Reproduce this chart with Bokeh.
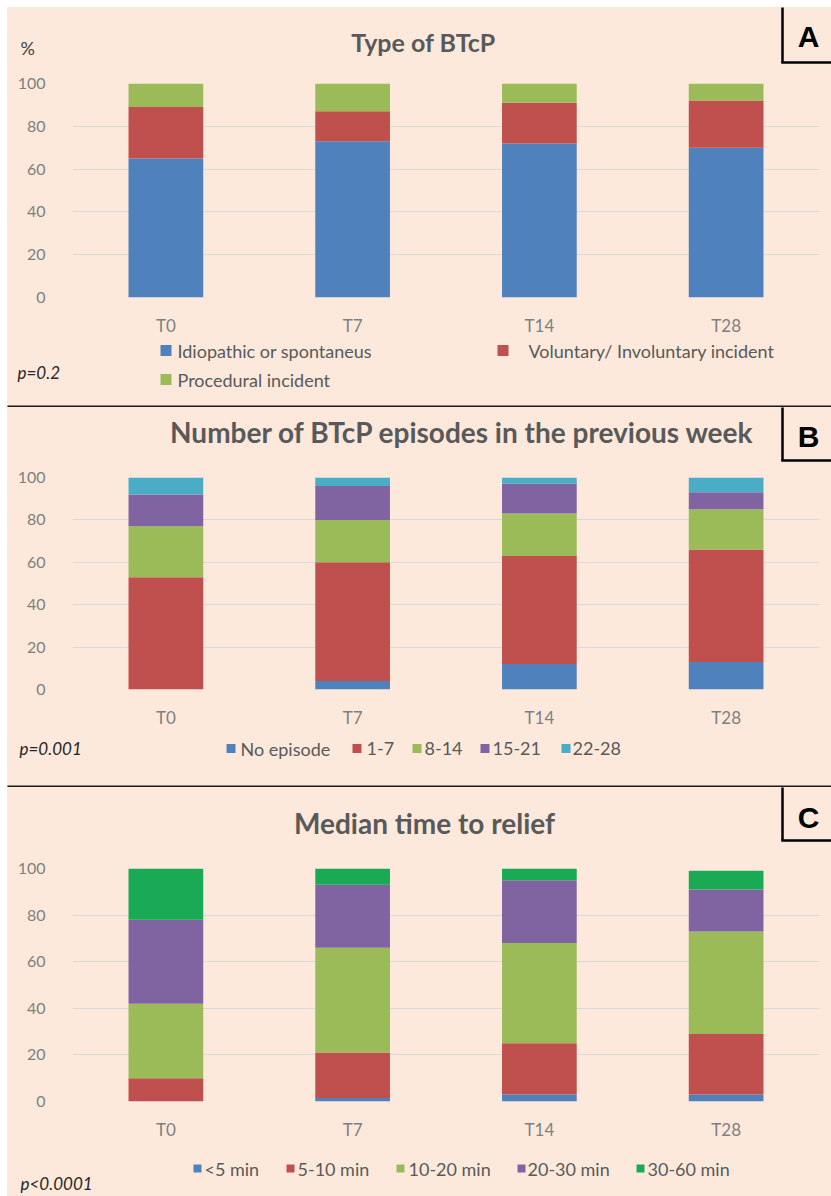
from bokeh.plotting import figure
from bokeh.models import FactorRange, Range1d, Label, FixedTicker, ColumnDataSource, Spacer
from bokeh.layouts import column, row
from bokeh.embed import file_html
from bokeh.resources import INLINE

# ---------------- data ----------------
times = ["T0", "T7", "T14", "T28"]
y_ticks = [0, 20, 40, 60, 80, 100]

# Panel A: Type of BTcP
type_labels = ["Idiopathic or spontaneus", "Voluntary/ Involuntary incident", "Procedural   incident"]
idiopathic = [65, 73, 72, 70]
voluntary = [24, 14, 19, 22]
procedural = [11, 13, 9, 8]

# Panel B: Number of BTcP episodes in the previous week
episode_labels = ["No episode", "1-7", "8-14", "15-21", "22-28"]
ep_none = [0, 4, 12, 13]
ep_1_7 = [53, 56, 51, 53]
ep_8_14 = [24, 20, 20, 19]
ep_15_21 = [15, 16, 14, 8]
ep_22_28 = [8, 4, 3, 7]

# Panel C: Median time to relief
relief_labels = ["<5 min", "5-10 min", "10-20 min", "20-30 min", "30-60 min"]
r_lt5 = [0, 1.5, 3, 3]
r_5_10 = [10, 19.5, 22, 26]
r_10_20 = [32, 45, 43, 44]
r_20_30 = [36, 27, 27, 18]
r_30_60 = [22, 7, 5, 8]

titles = ["Type of BTcP", "Number of BTcP episodes in the previous week", "Median time to relief"]
letters = ["A", "B", "C"]
p_values = ["p=0.2", "p=0.001", "p<0.0001"]

# ---------------- style ----------------
BG = "#FCE9DC"
BLUE, RED, GREEN, PURPLE, CYAN, DKGREEN = "#4F81BD", "#C0504D", "#9BBB59", "#8064A2", "#4BACC6", "#1AAA55"
FONT = "Lato"
X0 = 7          # left white strip
W = 831 - X0    # figure width


def no_align(p):
    if "frame_align" in p.properties():
        p.frame_align = False


def chart(top_page, bottom_page, frame_top, frame_bottom, series, colors):
    height = bottom_page - top_page
    p = figure(x_range=FactorRange(*times), y_range=Range1d(0, 100), title=None,
               width=W, height=height, output_backend="svg", toolbar_location=None,
               min_border_left=72 - X0, min_border_right=831 - 819,
               min_border_top=frame_top - top_page, min_border_bottom=bottom_page - frame_bottom)
    no_align(p)
    p.background_fill_color = BG
    p.border_fill_color = BG
    p.outline_line_color = None
    data = {"t": times}
    keys = []
    for i, s in enumerate(series):
        data["s%d" % i] = s
        keys.append("s%d" % i)
    p.vbar_stack(keys, x="t", width=0.4, fill_color=colors, line_color=None,
                 source=ColumnDataSource(data))
    p.yaxis.ticker = FixedTicker(ticks=y_ticks)
    for ax in (p.xaxis[0], p.yaxis[0]):
        ax.axis_line_color = None
        ax.major_tick_line_color = None
        ax.minor_tick_line_color = None
        ax.major_tick_out = 0
        ax.major_tick_in = 0
        ax.major_label_text_font = FONT
        ax.major_label_text_color = "#7F7F7F"
    p.yaxis.major_label_text_font_size = "16px"
    p.xaxis.major_label_text_font_size = "17px"
    p.yaxis.major_label_standoff = 27
    p.xaxis.major_label_standoff = 17
    p.xgrid.grid_line_color = None
    p.ygrid.grid_line_color = "#D9D9D9"
    p.ygrid.grid_line_width = 1
    return p


def deco(top_page, bottom_page):
    """Plain strip whose data coordinates equal page pixels."""
    p = figure(x_range=Range1d(X0, 831), y_range=Range1d(bottom_page, top_page), title=None,
               width=W, height=bottom_page - top_page, output_backend="svg", toolbar_location=None,
               x_axis_type=None, y_axis_type=None, min_border=0,
               min_border_left=0, min_border_right=0, min_border_top=0, min_border_bottom=0)
    no_align(p)
    p.background_fill_color = BG
    p.border_fill_color = BG
    p.outline_line_color = None
    p.grid.visible = False
    return p


def text(p, x, y, s, size="16px", color="#595959", style="normal", font=FONT, align="left"):
    p.add_layout(Label(x=x, y=y, text=s, text_font=font, text_font_size=size,
                       text_color=color, text_font_style=style, text_align=align,
                       text_baseline="middle"))


def letter_box(p, top, bottom, letter, cy):
    p.segment(x0=[782, 780.75], y0=[top - 5, bottom], x1=[782, 840], y1=[bottom, bottom],
              line_width=2.5, line_color="black")
    text(p, 808, cy, letter, size="30px", color="black", style="bold",
         font="Liberation Sans", align="center")


def separator(p, y):
    p.segment(x0=[0], y0=[y], x1=[840], y1=[y], line_width=2.2, line_color="#1a1a1a")


def legend_items(p, sq_x, tx_x, y, size, colors, labels, fsize="18px"):
    lefts = list(sq_x)
    rights = [v + size for v in sq_x]
    tops = [y - size / 2.0] * len(sq_x)
    bottoms = [y + size / 2.0] * len(sq_x)
    p.quad(left=lefts, right=rights, top=tops, bottom=bottoms, fill_color=colors, line_color=None)
    for tx, lab in zip(tx_x, labels):
        text(p, tx, y, lab, size=fsize)


# ---------------- panel A ----------------
ha = deco(7, 68)
text(ha, 423, 41, titles[0], size="25px", style="bold", align="center")
text(ha, 20, 47, "%", size="18px", color="#404040")
letter_box(ha, 7, 62, letters[0], 36)

ca = chart(68, 338, 83, 298, [idiopathic, voluntary, procedural], [BLUE, RED, GREEN])

fa = deco(338, 407)
legend_items(fa, [160, 497], [177, 528], 350, 11, [BLUE, RED], type_labels[:2])
legend_items(fa, [160], [177], 379, 11, [GREEN], type_labels[2:])
text(fa, 17, 372, p_values[0], size="17px", color="#262626", style="italic")
separator(fa, 406)

# ---------------- panel B ----------------
hb = deco(407, 463)
text(hb, 462, 431, titles[1], size="28px", style="bold", align="center")
letter_box(hb, 407, 460, letters[1], 436)

cb = chart(463, 730, 477, 690, [ep_none, ep_1_7, ep_8_14, ep_15_21, ep_22_28],
           [BLUE, RED, GREEN, PURPLE, CYAN])

fb = deco(730, 787)
legend_items(fb, [226, 352, 412, 480, 561], [240, 366, 424, 492, 572], 748, 9,
             [BLUE, RED, GREEN, PURPLE, CYAN], episode_labels)
text(fb, 19, 748, p_values[1], size="17px", color="#262626", style="italic")
separator(fb, 786)

# ---------------- panel C ----------------
hc = deco(787, 853)
text(hc, 424, 822, titles[2], size="28px", style="bold", align="center")
letter_box(hc, 787, 840, letters[2], 817)

cc = chart(853, 1142, 868, 1102, [r_lt5, r_5_10, r_10_20, r_20_30, r_30_60],
           [BLUE, RED, GREEN, PURPLE, DKGREEN])

fc = deco(1142, 1196)
legend_items(fc, [193, 286, 396, 517, 636], [204, 297, 408, 527, 647], 1168, 8,
             [BLUE, RED, GREEN, PURPLE, DKGREEN], relief_labels)
text(fc, 20, 1183, p_values[2], size="17px", color="#262626", style="italic")

stack = column(Spacer(width=W, height=7, styles={"background-color": "white"}),
               ha, ca, fa, hb, cb, fb, hc, cc, fc, spacing=0,
               styles={"background-color": BG})
layout = row(Spacer(width=X0, height=10), stack, spacing=0)
open("out.html", "w").write(file_html(layout, INLINE))
